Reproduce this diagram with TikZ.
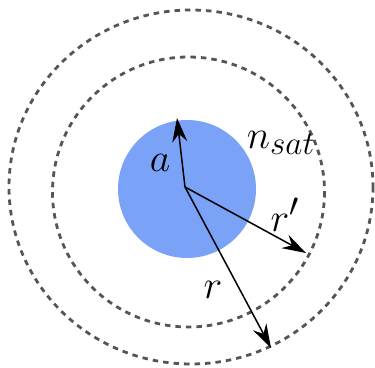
\documentclass[tikz,border=0pt]{standalone}
\usepackage{fix-cm}
\usetikzlibrary{arrows.meta}
\definecolor{diskblue}{RGB}{122,162,247}
\definecolor{ringgray}{RGB}{85,85,85}
\tikzset{
  ring/.style={draw=ringgray,line width=2.8pt,dash pattern=on 5.5pt off 5pt},
  vec/.style={draw=black,line width=1.5pt,arrows={-Stealth[length=24pt,width=15pt,inset=8pt]}},
  lbl/.style={font=\Huge,scale=1.6,transform shape,inner sep=0pt}}
\begin{document}
\begin{tikzpicture}[x=1pt,y=-1pt]
\useasboundingbox (0,0) rectangle (375,367);
\fill[diskblue] (187,189) circle[radius=69];
\draw[ring] (188.5,192) ellipse[x radius=136,y radius=135];
\draw[ring] (191,187) ellipse[x radius=182,y radius=177];
\coordinate (o) at (185,187);
\coordinate (ta) at (177,118);
\coordinate (trp) at (306,253);
\coordinate (tr) at (271,348);
\draw[vec] (o) -- (ta);
\draw[vec] (o) -- (trp);
\draw[vec] (o) -- (tr);
\node[lbl] (la) at (160,163) {$a$};
\node[lbl] (ln) at (281,143) {$n_{sat}$};
\node[lbl] (lrp) at (285,215) {$r'$};
\node[lbl] (lr) at (213,290) {$r$};
\end{tikzpicture}
\end{document}
